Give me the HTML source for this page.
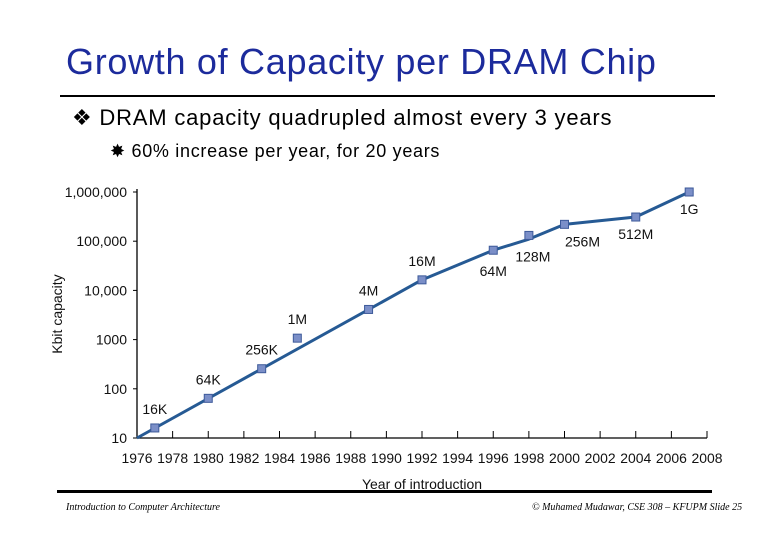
<!DOCTYPE html>
<html><head><meta charset="utf-8"><style>
body{margin:0;width:780px;height:540px;background:#fff;overflow:hidden;position:relative;font-family:"Liberation Sans",sans-serif}
.t{position:absolute;white-space:nowrap}
</style></head><body>
<div class="t" style="left:66px;top:41px;font-size:36px;color:#1c2b9c;letter-spacing:0.7px">Growth of Capacity per DRAM Chip</div>
<div style="position:absolute;left:60px;top:95px;width:655px;height:2px;background:#000"></div>
<div class="t" style="left:72px;top:105px;font-size:22px;color:#000;letter-spacing:0.8px">❖ DRAM capacity quadrupled almost every 3 years</div>
<div class="t" style="left:110px;top:141px;font-size:18px;color:#000;letter-spacing:0.7px">✸ 60% increase per year, for 20 years</div>

<svg id="chart" style="position:absolute;left:0;top:0" width="780" height="540" font-family="Liberation Sans, sans-serif"></svg>

<div style="position:absolute;left:57px;top:490px;width:655px;height:3px;background:#000"></div>
<div class="t" style="left:66px;top:502px;font-size:10px;font-style:italic;font-family:'Liberation Serif',serif">Introduction to Computer Architecture</div>
<div class="t" style="left:532px;top:502px;font-size:10px;font-style:italic;font-family:'Liberation Serif',serif">© Muhamed Mudawar, CSE 308 – KFUPM Slide 25</div>

<script>
const years=[1977,1980,1983,1985,1989,1992,1996,1998,2000,2004,2007];
const capacity=[16,64,256,1070,4100,16384,65536,131072,220000,310000,1000000];
const labels=["16K","64K","256K","1M","4M","16M","64M","128M","256M","512M","1G"];
const lineYears=[1976,1992,1996,1998,2000,2004,2007];
const lineValues=[10,16384,65536,110000,220000,310000,1000000];
const xTicks=[1976,1978,1980,1982,1984,1986,1988,1990,1992,1994,1996,1998,2000,2002,2004,2006,2008];
const yTicks=[10,100,1000,10000,100000,1000000];
const yTickLabels=["10","100","1000","10,000","100,000","1,000,000"];
const labelOffsets=[[0,-14],[0,-14],[0,-14],[0,-14],[0,-14],[0,-14],[0,26],[4,26],[18,22],[0,22],[0,22]];

const svg=document.getElementById('chart');
const NS='http://www.w3.org/2000/svg';
const x=v=>137+(v-1976)*(707-137)/32;
const y=v=>438-(Math.log10(v)-1)*(438-192)/5;
function el(tag,attrs){const e=document.createElementNS(NS,tag);for(const k in attrs)e.setAttribute(k,attrs[k]);svg.appendChild(e);return e;}

let e=el('line',{x1:137,y1:438,x2:707,y2:438,stroke:'#000','stroke-width':1.3});


e=el('line',{x1:137,y1:438,x2:137,y2:189,stroke:'#000','stroke-width':1.3});



xTicks.forEach(t=>{
  let k=el('line',{x1:x(t),y1:431,x2:x(t),y2:438,stroke:'#000'});
  
  
  let l=el('text',{x:x(t),y:463,'font-size':14,'text-anchor':'middle',fill:'#111',textLength:31,lengthAdjust:'spacingAndGlyphs'});
  l.textContent=t;
  
  
});
yTicks.forEach((t,i)=>{
  let k=el('line',{x1:133,y1:y(t),x2:137,y2:y(t),stroke:'#000'});
  
  
  let l=el('text',{x:127,y:y(t)+5,'font-size':14,'text-anchor':'end',fill:'#111'});
  l.textContent=yTickLabels[i];
  
  
});
let yt=el('text',{x:62,y:314,'font-size':14,'text-anchor':'middle',transform:'rotate(-90 62 314)',fill:'#111'});
yt.textContent='Kbit capacity';


let xt=el('text',{x:422,y:489,'font-size':14,'text-anchor':'middle',fill:'#111'});
xt.textContent='Year of introduction';



let pl=el('polyline',{points:lineYears.map((v,i)=>x(v)+','+y(lineValues[i])).join(' '),fill:'none',stroke:'#265a94','stroke-width':3,'stroke-linejoin':'round'});



years.forEach((v,i)=>{
  let m=el('rect',{x:x(v)-4,y:y(capacity[i])-4,width:8,height:8,fill:'#7b8fc8',stroke:'#3d5a9a','stroke-width':1});
  
  
  let l=el('text',{x:x(v)+labelOffsets[i][0],y:y(capacity[i])+labelOffsets[i][1],'font-size':14,'text-anchor':'middle',fill:'#111'});
  l.textContent=labels[i];
  
  
});
</script>
</body></html>
